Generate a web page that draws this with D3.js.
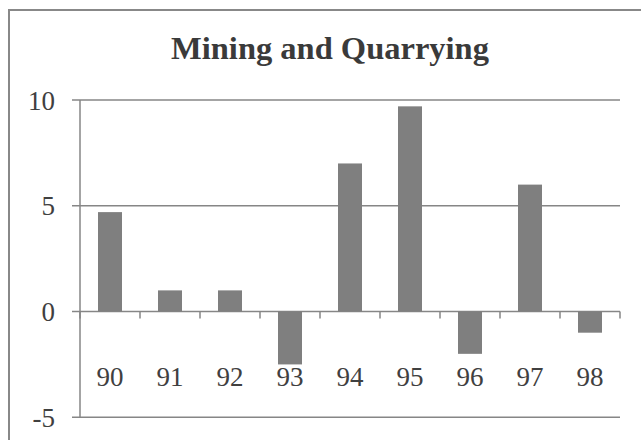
<!DOCTYPE html>
<html>

<head>
    <meta charset="utf-8">
    <title>Mining and Quarrying</title>
    <script src="https://cdn.jsdelivr.net/npm/d3@7"></script>
    <style>
        body { margin: 0; background: #fff; }
    </style>
</head>

<body>
    <svg width="641" height="440" id="mainsvg"></svg>
    <script>
        const years = ['90', '91', '92', '93', '94', '95', '96', '97', '98'];
        const values = [4.7, 1, 1, -2.5, 7, 9.7, -2, 6, -1];
        const yTicks = [-5, 0, 5, 10];

        const svg = d3.select('svg');
        const font = '"Liberation Serif", "DejaVu Serif", serif';
        const gridColor = '#868686';

        // chart frame (right and bottom edges fall outside the picture)
        svg.append('rect')
            .attr('x', 9).attr('y', 10)
            .attr('width', 700).attr('height', 500)
            .attr('fill', '#fff')
            .attr('stroke', '#888').attr('stroke-width', 2);

        svg.append('text')
            .attr('x', 330).attr('y', 59)
            .attr('text-anchor', 'middle')
            .attr('font-family', font)
            .attr('font-weight', 'bold')
            .attr('font-size', 32.5)
            .attr('fill', '#3a3a3a')
            .text('Mining and Quarrying');

        const x = d3.scaleBand().domain(years).range([80, 620]).paddingInner(0.6).paddingOuter(0.3);
        const y = d3.scaleLinear().domain([-5, 10]).range([417.3, 100]);

        // gridlines
        svg.append('g').selectAll('line').data(yTicks).join('line')
            .attr('x1', 72).attr('x2', 620)
            .attr('y1', d => y(d)).attr('y2', d => y(d))
            .attr('stroke', gridColor).attr('stroke-width', 1.5);

        // y axis line
        svg.append('line')
            .attr('x1', 80).attr('x2', 80)
            .attr('y1', y(10)).attr('y2', y(-5))
            .attr('stroke', gridColor).attr('stroke-width', 1.5);

        // y labels
        const yAxis = svg.append('g')
            .attr('transform', 'translate(80,0)')
            .call(d3.axisLeft(y).tickValues(yTicks).tickSize(0).tickPadding(25)
                .tickFormat(d => String(d)));
        yAxis.select('.domain').remove();
        yAxis.selectAll('text')
            .attr('font-family', font).attr('font-size', 27)
            .attr('fill', '#404040').attr('dy', '0.34em');

        // bars
        svg.append('g').selectAll('rect').data(values).join('rect')
            .attr('x', (d, i) => x(years[i]))
            .attr('width', x.bandwidth())
            .attr('y', d => y(Math.max(0, d)))
            .attr('height', d => Math.abs(y(d) - y(0)))
            .attr('fill', '#7f7f7f');

        // category ticks at boundaries
        const bounds = d3.range(years.length + 1).map(i => 80 + i * x.step());
        svg.append('g').selectAll('line').data(bounds).join('line')
            .attr('x1', d => d).attr('x2', d => d)
            .attr('y1', y(0)).attr('y2', y(0) + 7)
            .attr('stroke', gridColor).attr('stroke-width', 1.5);

        // category labels
        svg.append('g').selectAll('text').data(years).join('text')
            .attr('x', d => x(d) + x.bandwidth() / 2)
            .attr('y', 386)
            .attr('text-anchor', 'middle')
            .attr('font-family', font).attr('font-size', 27)
            .attr('fill', '#404040')
            .text(d => d);
    </script>
</body>

</html>
